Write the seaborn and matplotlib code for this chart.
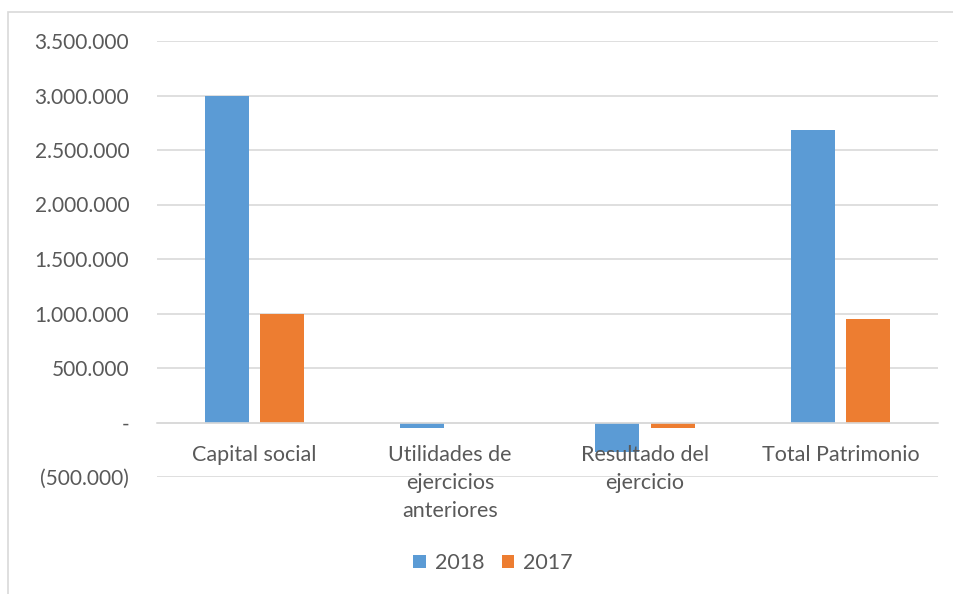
import numpy as np
import pandas as pd
import matplotlib
matplotlib.use('Agg')
import matplotlib.pyplot as plt
from matplotlib.patches import Patch, Rectangle
from matplotlib.ticker import FuncFormatter, MultipleLocator
import seaborn as sns

# data
categorias = ['Capital social', 'Utilidades de\nejercicios\nanteriores',
              'Resultado del\nejercicio', 'Total Patrimonio']
valores2018 = [3000000, -46000, -271000, 2683000]
valores2017 = [1000000, 0, -46000, 954000]
anios = ['2018', '2017']

colores = ['#5B9BD5', '#ED7D31']
gris = '#595959'
lineaGris = '#D9D9D9'

df = pd.DataFrame({
    'Cuenta': categorias * 2,
    'Valor': valores2018 + valores2017,
    'Anio': [anios[0]] * 4 + [anios[1]] * 4,
})

sns.set_style('white')
plt.rcParams['font.family'] = ['Lato', 'DejaVu Sans']

fig = plt.figure(figsize=(9.54, 5.94), dpi=100)
W, H = 954, 594
ax = fig.add_axes([157 / W, 1 - 477 / H, (938 - 157) / W, (477 - 41) / H])

sns.barplot(data=df, x='Cuenta', y='Valor', hue='Anio', palette=colores, saturation=1,
            width=0.57, gap=0.21, errorbar=None, linewidth=0, legend=False, ax=ax)

ax.set_ylim(-500000, 3500000)
ax.set_xlim(-0.5, 3.5)
ax.yaxis.set_major_locator(MultipleLocator(500000))


def fmt(v, pos):
    if abs(v) < 1:
        return '-'
    s = f'{abs(v):,.0f}'.replace(',', '.')
    return f'({s})' if v < 0 else s


ax.yaxis.set_major_formatter(FuncFormatter(fmt))
ax.grid(axis='y', color=lineaGris, linewidth=1.2)
ax.set_axisbelow(True)
ax.xaxis.set_zorder(3)  # category labels on top of the bars, like Excel
for sp in ['top', 'right', 'left']:
    ax.spines[sp].set_visible(False)
ax.spines['bottom'].set_position(('data', 0))
ax.spines['bottom'].set_color(lineaGris)
ax.spines['bottom'].set_linewidth(1.2)
ax.set_xlabel('')
ax.set_ylabel('')
ax.tick_params(axis='y', length=0, pad=20, labelsize=15, labelcolor=gris)
ax.tick_params(axis='x', length=0, pad=16, labelsize=15.5, labelcolor=gris)
for lab in ax.get_xticklabels():
    lab.set_linespacing(1.5)
    lab.set_verticalalignment('top')

# legend
handles = [Patch(facecolor=c, edgecolor='none') for c in colores]
fig.legend(handles, anios, loc='center', bbox_to_anchor=(493 / W, 1 - 563 / H),
           ncol=2, frameon=False, fontsize=15.5, labelcolor=gris,
           handlelength=0.6, handleheight=0.6, handletextpad=0.4, columnspacing=0.8)

# chart frame
fig.patches.append(Rectangle((8 / W, -0.05), 1.2, 1 - 12 / H + 0.05, transform=fig.transFigure,
                             fill=False, edgecolor=lineaGris, linewidth=1.2))

fig.savefig('out.png', dpi=100)
